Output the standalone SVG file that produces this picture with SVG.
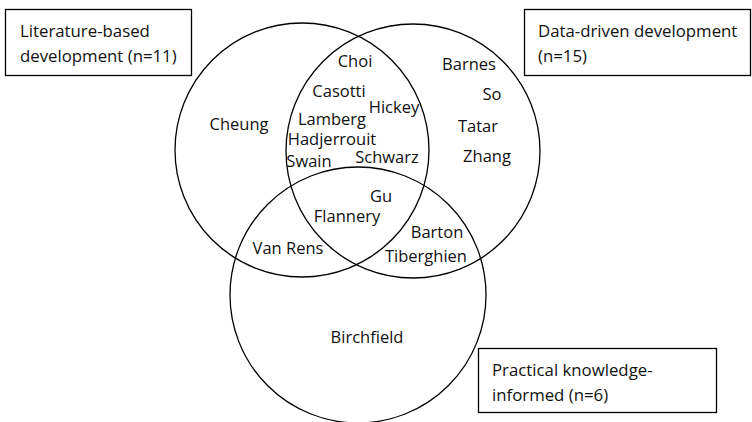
<svg xmlns="http://www.w3.org/2000/svg" width="752" height="422" viewBox="0 0 752 422">
<style>
.c{fill:none;stroke:#000;stroke-width:1.3}
.b{fill:#fff;stroke:#000;stroke-width:1.3}
text{font-family:"Open Sans","Noto Sans",sans-serif;font-size:16.5px;fill:#111}
.t{font-size:16.8px}
.m{text-anchor:middle}
</style>
<rect width="752" height="422" fill="#fff"/>
<g id="circles">
<circle id="set-literature" class="c" cx="302" cy="150" r="127"/>
<circle id="set-data" class="c" cx="413" cy="151" r="127"/>
<circle id="set-practical" class="c" cx="358" cy="295" r="128"/>
</g>
<g id="label-literature">
<rect class="b" x="5.5" y="9.5" width="186" height="66"/>
<text class="t" x="20" y="37">Literature-based</text>
<text class="t" x="20" y="62">development (n=11)</text>
</g>
<g id="label-data">
<rect class="b" x="524.5" y="9.5" width="226" height="66"/>
<text class="t" x="538" y="37">Data-driven development</text>
<text class="t" x="538" y="62">(n=15)</text>
</g>
<g id="label-practical">
<rect class="b" x="478.5" y="348.5" width="238" height="64"/>
<text class="t" x="492" y="376">Practical knowledge-</text>
<text class="t" x="492" y="401">informed (n=6)</text>
</g>
<g id="names">
<text class="m" x="239" y="130">Cheung</text>
<text class="m" x="355" y="67">Choi</text>
<text class="m" x="339" y="97">Casotti</text>
<text class="m" x="394" y="113">Hickey</text>
<text class="m" x="332" y="125">Lamberg</text>
<text class="m" x="332" y="145">Hadjerrouit</text>
<text class="m" x="309" y="167">Swain</text>
<text class="m" x="387" y="163">Schwarz</text>
<text class="m" x="469" y="70">Barnes</text>
<text class="m" x="492" y="100">So</text>
<text class="m" x="478" y="132">Tatar</text>
<text class="m" x="487" y="162">Zhang</text>
<text class="m" x="381" y="202">Gu</text>
<text class="m" x="347" y="222">Flannery</text>
<text class="m" x="437" y="238">Barton</text>
<text class="m" x="288" y="254">Van Rens</text>
<text class="m" x="426" y="262">Tiberghien</text>
<text class="m" x="367" y="343">Birchfield</text>
</g>
</svg>
